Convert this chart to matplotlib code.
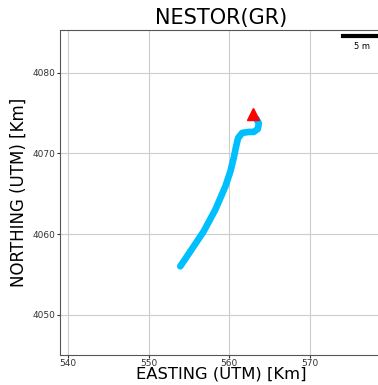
import matplotlib
matplotlib.use("Agg")
from matplotlib import pyplot as plt

# track (UTM, km)
easting = [553.94, 555.19, 556.85, 558.30, 559.55, 560.17, 560.58, 560.88, 561.13,
           561.63, 562.45, 563.07, 563.57, 563.70, 563.41]
northing = [4056.00, 4057.85, 4060.33, 4063.03, 4065.92, 4067.78, 4069.44, 4070.88, 4071.92,
            4072.54, 4072.66, 4072.66, 4073.03, 4073.70, 4074.28]
end_e, end_n = 563.0, 4074.85

xticks = [540, 550, 560, 570]
yticks = [4050, 4060, 4070, 4080]

fig = plt.figure(figsize=(3.78, 3.85), dpi=100)
ax = fig.add_axes([60/378, 1 - 355/385, 322/378, 325/385])

ax.plot(easting, northing, color='#00bfff', lw=4.8, solid_capstyle='round',
        solid_joinstyle='round', zorder=3)
ax.plot(end_e, end_n, marker='^', color='red', markersize=8, zorder=4)

ax.set_xlim(539, 579)
ax.set_ylim(4045, 4085.3)
ax.set_xticks(xticks)
ax.set_yticks(yticks)
ax.tick_params(labelsize=6.5, colors='#333333', length=2, pad=1)
ax.grid(True, color='#cccccc', lw=0.8)
for s in ax.spines.values():
    s.set_color('#555555')

ax.set_title("NESTOR(GR)", fontsize=15, pad=4)
ax.set_xlabel("EASTING (UTM) [Km]", fontsize=11.8)
ax.set_ylabel("NORTHING (UTM) [Km]", fontsize=12)
ax.xaxis.set_label_coords(0.5, -0.036)
ax.yaxis.set_label_coords(-0.099, 0.5)

# scale bar
ax.plot([574.1, 579], [4084.6, 4084.6], color='black', lw=3, clip_on=False, zorder=5)
ax.text(576.5, 4083.2, "5 m", fontsize=6, ha='center', va='center')

fig.savefig("out.png", dpi=100)
